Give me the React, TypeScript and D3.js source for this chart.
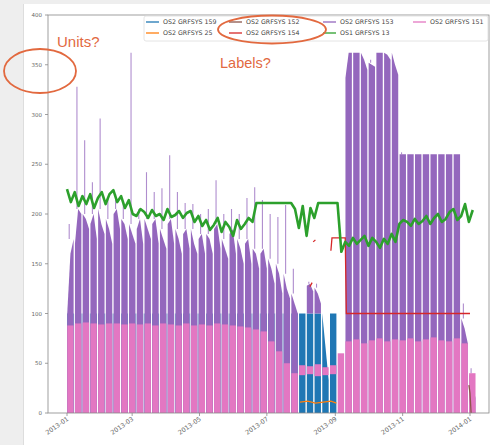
import React from 'react';
import * as d3 from 'd3';

// weekly blocks, week 0 starts 2013-01-01
const purpleStart = [100, 170, 200, 190, 205, 195, 200, 195, 190, 185, 195, 190, 185, 190, 185, 180, 185, 175, 180, 185, 175, 180, 175, 170, 165, 160, 155, 150, 140, 120, null, 128, 126, null, null, null, 337, 362, 362, 352, 362, 362, 362, 260, 260, 260, 260, 260, 260, 260, 260, 95, 40];
const purpleMid = [160, 205, 195, 200, 190, 185, 205, 190, 180, 195, 185, 195, 175, 195, 175, 185, 170, 180, 175, 190, 165, 185, 165, 175, 160, 165, 145, 140, 125, 110, null, 130, 120, null, null, null, 362, 362, 355, 350, 362, 360, 350, 260, 260, 260, 260, 260, 260, 260, 260, 85, 30];
const purpleEnd = [175, 200, 185, 175, 180, 170, 185, 175, 170, 170, 175, 170, 165, 170, 160, 165, 160, 160, 160, 165, 155, 160, 150, 150, 145, 145, 130, 120, 115, 100, null, 122, 110, null, null, null, 362, 362, 345, 348, 362, 355, 340, 260, 260, 260, 260, 260, 260, 260, 260, 70, 15];
const purplePeak = [190, 328, 274, 232, 296, 215, 220, 210, 362, 205, 242, 222, 226, 259, 222, 211, 210, 200, 205, 234, 200, 205, 200, 216, 227, 214, 200, 197, 209, 145, null, 132, 130, null, null, null, 362, 362, 362, 355, 362, 362, 362, 262, 260, 260, 260, 260, 260, 260, 260, 110, 45];
const purpleBase = [0, 0, 0, 0, 0, 0, 0, 0, 0, 0, 0, 0, 0, 0, 0, 0, 0, 0, 0, 0, 0, 0, 0, 0, 0, 0, 0, 0, 0, 0, 0, 100, 100, 0, 0, 0, 0, 0, 0, 0, 0, 0, 0, 0, 0, 0, 0, 0, 0, 0, 0, 0, 0];

const pinkTop = [88, 90, 91, 90, 89, 90, 90, 89, 90, 89, 90, 88, 90, 89, 88, 90, 88, 89, 88, 90, 89, 88, 87, 86, 84, 82, 72, 62, 50, 40, 48, 47, 49, 46, 48, 60, 72, 74, 70, 73, 75, 72, 74, 73, 75, 72, 74, 76, 73, 72, 75, 70, 40];
const pinkBase = [0, 0, 0, 0, 0, 0, 0, 0, 0, 0, 0, 0, 0, 0, 0, 0, 0, 0, 0, 0, 0, 0, 0, 0, 0, 0, 0, 0, 0, 0, 38, 39, 37, 38, 39, 0, 0, 0, 0, 0, 0, 0, 0, 0, 0, 0, 0, 0, 0, 0, 0, 0, 0];

const blueStart = [100, 100, 100, 100, 100, 100, 100, 100, 100, 100, 100, 100, 100, 100, 100, 100, 100, 100, 100, 100, 100, 100, 100, 100, 100, 100, 100, 100, 100, 100, 100, 100, 100, 100, 100];
const blueEnd = [100, 100, 100, 100, 100, 100, 100, 100, 100, 100, 100, 100, 100, 100, 100, 100, 100, 100, 100, 100, 100, 100, 100, 100, 100, 100, 100, 100, 100, 100, 100, 100, 100, 33, 100];

// two readings per week
const greenValues = [
  225, 212, 222, 208, 218, 210, 220, 206, 216, 222, 210, 220, 224, 212, 218, 206, 214, 200,
  198, 205, 202, 196, 204, 198, 200, 194, 205, 197, 199, 203, 196, 201, 203, 192, 198, 188,
  194, 184, 189, 196, 182, 192, 187, 178, 194, 185, 190, 196, 192, 211, 211, 211, 211, 211,
  211, 211, 211, 211, 211, 205, 186, 208, 178, 206, 196, 211, 211, 211, 211, 211, 211, 162,
  172, 168, 176, 170, 174, 178, 168, 176, 172, 166, 175, 170, 180, 172, 190, 194, 192, 188,
  195, 190, 193, 198, 190, 196, 200, 192, 195, 202, 205, 194, 198, 210, 192, 204,
];

const redDays = [220, 222, null, 223, 225, null, 239, 240, 252, 253, 365, null, 297, 299];
const redValues = [127, 131, null, 172, 174, null, 163, 176, 176, 100, 100, null, 174, 174];

const orangeDays = [211, 218, 225, 232, 239, 244];
const orangeValues = [11, 12, 10, 11, 12, 10];

const brownDays = [364, 365, 366];
const brownValues = [28, 20, 0];

const tickDates = ['2013-01', '2013-03', '2013-05', '2013-07', '2013-09', '2013-11', '2014-01'];
const yTicks = [0, 50, 100, 150, 200, 250, 300, 350, 400];

const legendItems = [
  { label: 'OS2 GRFSYS 159', color: '#1f77b4' },
  { label: 'OS2 GRFSYS 25', color: '#ff7f0e' },
  { label: 'OS2 GRFSYS 152', color: '#8c564b' },
  { label: 'OS2 GRFSYS 154', color: '#d62728' },
  { label: 'OS2 GRFSYS 153', color: '#9467bd' },
  { label: 'OS1 GRFSYS 13', color: '#2ca02c' },
  { label: 'OS2 GRFSYS 151', color: '#e377c2' },
];

const W = 490;
const H = 445;
const t0 = Date.UTC(2013, 0, 1);
const x = d3.scaleUtc().domain([new Date(t0), new Date(Date.UTC(2014, 0, 1))]).range([67, 470]);
const y = d3.scaleLinear().domain([0, 400]).range([413, 15]);
const dx = (d: number) => x(new Date(t0 + d * 864e5));

const block = (w: number, vals: number[], base: number) =>
  d3.area<number>()
    .x((_, i) => dx(w * 7 + 0.2 + (i * 5.8) / (vals.length - 1)))
    .y0(y(base))
    .y1(v => y(v))(vals) || '';

const seriesLine = (days: (number | null)[], vals: (number | null)[]) =>
  d3.line<number>()
    .defined(i => days[i] != null && vals[i] != null)
    .x(i => dx(days[i] as number))
    .y(i => y(vals[i] as number))(d3.range(days.length)) || '';

export default function App() {
  const ann = '#e2693f';
  const greenPath = d3.line<number>()
    .x((_, i) => dx(i * 3.5))
    .y(v => y(v))(greenValues) || '';

  const legendCols = [146, 229, 323, 413];

  return (
    <div style={{ position: 'absolute', left: 0, top: 0 }}>
      <svg width={W} height={H} style={{ display: 'block', fontFamily: 'DejaVu Sans, sans-serif' }}>
        <rect x={0} y={0} width={W} height={H} fill="#ffffff" />
        <rect x={0} y={0} width={23} height={H} fill="#eeeeee" />
        <rect x={0} y={0} width={W} height={4} fill="#eeeeee" />
        <line x1={23.5} y1={4} x2={23.5} y2={H} stroke="#dddddd" />

        {/* blue */}
        {blueStart.map((s, w) => (
          <path key={'b' + w} d={block(w, [s, blueEnd[w]], 0)} fill="#1f77b4" />
        ))}

        {/* purple */}
        {purpleStart.map((s, w) => {
          if (s == null) return null;
          const m = purpleMid[w] as number;
          const e = purpleEnd[w] as number;
          const top = Math.max(s, m, e);
          const pk = purplePeak[w] as number;
          return (
            <g key={'p' + w}>
              <path d={block(w, [s, m, e], purpleBase[w])} fill="#9467bd" />
              {pk > top && (
                <line x1={dx(w * 7 + 2)} x2={dx(w * 7 + 2)} y1={y(top)} y2={y(pk)}
                  stroke="#9467bd" strokeWidth={1.1} strokeOpacity={0.75} />
              )}
            </g>
          );
        })}

        {/* pink */}
        {pinkTop.map((t, w) => (
          <path key={'k' + w} d={block(w, [t, t], pinkBase[w])} fill="#e377c2" />
        ))}

        <path d={seriesLine(orangeDays, orangeValues)} fill="none" stroke="#ff7f0e" strokeWidth={1.3} />
        <path d={seriesLine(redDays, redValues)} fill="none" stroke="#d62728" strokeWidth={1.3} />
        <path d={greenPath} fill="none" stroke="#2ca02c" strokeWidth={2.6} strokeLinejoin="round" />
        <path d={seriesLine(brownDays, brownValues)} fill="none" stroke="#8c564b" strokeWidth={1.3} />

        {/* frame */}
        <rect x={48} y={15} width={441} height={398} fill="none" stroke="#888" strokeWidth={0.8} />

        {/* y axis */}
        {yTicks.map(t => (
          <g key={'y' + t}>
            <line x1={45} x2={48} y1={y(t)} y2={y(t)} stroke="#888" strokeWidth={0.8} />
            <text x={42} y={y(t) + 2} textAnchor="end" fontSize={5.5} fill="#666">{t}</text>
          </g>
        ))}

        {/* x axis */}
        {tickDates.map(t => {
          const [yy, mm] = t.split('-').map(Number);
          const px = x(new Date(Date.UTC(yy, mm - 1, 1)));
          return (
            <g key={t}>
              <line x1={px} x2={px} y1={413} y2={416} stroke="#888" strokeWidth={0.8} />
              <text transform={`translate(${px + 2},${420}) rotate(-35)`} textAnchor="end" fontSize={6.3} fill="#666">{t}</text>
            </g>
          );
        })}

        {/* legend */}
        <rect x={144} y={16} width={344} height={25} rx={2} fill="#ffffff" fillOpacity={0.85} stroke="#dddddd" strokeWidth={0.8} />
        {legendItems.map((it, i) => {
          const col = Math.floor(i / 2);
          const row = i % 2;
          const lx = legendCols[col];
          const ly = 22 + row * 11;
          return (
            <g key={it.label}>
              <line x1={lx} x2={lx + 13} y1={ly} y2={ly} stroke={it.color} strokeWidth={1.3} />
              <text x={lx + 17} y={ly + 2.2} fontSize={6.3} fill="#444">{it.label}</text>
            </g>
          );
        })}

        {/* annotations */}
        <text x={57} y={47} fontSize={15} fill={ann} style={{ fontFamily: 'Liberation Sans, Arial, sans-serif' }}>Units?</text>
        <ellipse cx={40} cy={71} rx={36} ry={22} fill="none" stroke={ann} strokeWidth={1.8} />
        <text x={220} y={68} fontSize={14.5} fill={ann} style={{ fontFamily: 'Liberation Sans, Arial, sans-serif' }}>Labels?</text>
        <ellipse cx={272} cy={29.5} rx={54} ry={14} fill="none" stroke={ann} strokeWidth={1.8} />
      </svg>
    </div>
  );
}
